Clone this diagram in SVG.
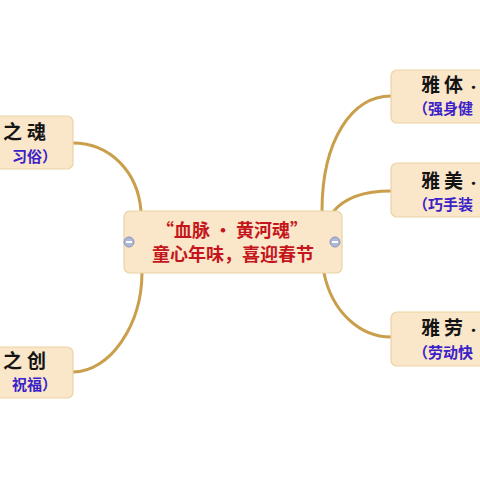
<svg xmlns="http://www.w3.org/2000/svg" width="480" height="480" viewBox="0 0 480 480">
<style>
.box{fill:#fae6c9;stroke:#ecd3a6;stroke-width:1.2}
.con{fill:none;stroke:#c99f4c;stroke-width:3;stroke-linecap:round}
.t1{font-family:"Noto Sans CJK SC",sans-serif;font-weight:bold;font-size:19px;fill:#141414}
.b{font-size:13px}
.t2{font-family:"Noto Sans CJK SC",sans-serif;font-weight:bold;font-size:15px;fill:#3a22c8}
.c{font-family:"Noto Sans CJK SC",sans-serif;font-weight:bold;font-size:18px;fill:#c4161c;text-anchor:middle}
.mc{fill:#aeb8d6;stroke:#8a96bc;stroke-width:1}
</style>
<rect width="480" height="480" fill="#ffffff"/>
<g id="connectors">
<path class="con" d="M141,211 C138,172 110,143 73,143"/>
<path class="con" d="M142,272 C142,325 110,372 73,372"/>
<path class="con" d="M322,211 C322,140 352,96 391,96"/>
<path class="con" d="M333,212 C345,197 365,191 391,191"/>
<path class="con" d="M324,273 C332,312 360,337 391,337"/>
</g>
<g id="center">
<rect class="box" x="124" y="211" width="218" height="62" rx="6"/>
<text class="c" x="232" y="237" font-size="17">“血脉 • 黄河魂”</text>
<text class="c" x="233" y="261">童心年味，喜迎春节</text>
<circle class="mc" cx="129" cy="242" r="5"/>
<rect x="126" y="241" width="6" height="2" fill="#fff"/>
<circle class="mc" cx="335" cy="242" r="5"/>
<rect x="332" y="241" width="6" height="2" fill="#fff"/>
</g>
<g id="left-top">
<rect class="box" x="-20" y="116" width="93" height="53" rx="6"/>
<text class="t1" x="3" y="139">之<tspan dx="5">魂</tspan></text>
<text class="t2" x="57" y="162" text-anchor="end">习俗）</text>
</g>
<g id="left-bottom">
<rect class="box" x="-20" y="347" width="93" height="51" rx="6"/>
<text class="t1" x="3" y="368">之<tspan dx="5">创</tspan></text>
<text class="t2" x="57" y="390" text-anchor="end">祝福）</text>
</g>
<g id="right-top">
<rect class="box" x="391" y="70" width="110" height="53" rx="6"/>
<text class="t1" x="421" y="92">雅<tspan dx="4">体</tspan><tspan class="b" dx="4">•</tspan></text>
<text class="t2" x="413" y="114">（强身健</text>
</g>
<g id="right-mid">
<rect class="box" x="391" y="163" width="110" height="54" rx="6"/>
<text class="t1" x="421" y="188">雅<tspan dx="4">美</tspan><tspan class="b" dx="4">•</tspan></text>
<text class="t2" x="413" y="210">（巧手装</text>
</g>
<g id="right-bottom">
<rect class="box" x="391" y="312" width="110" height="54" rx="6"/>
<text class="t1" x="421" y="335">雅<tspan dx="4">劳</tspan><tspan class="b" dx="4">•</tspan></text>
<text class="t2" x="413" y="358">（劳动快</text>
</g>
</svg>
